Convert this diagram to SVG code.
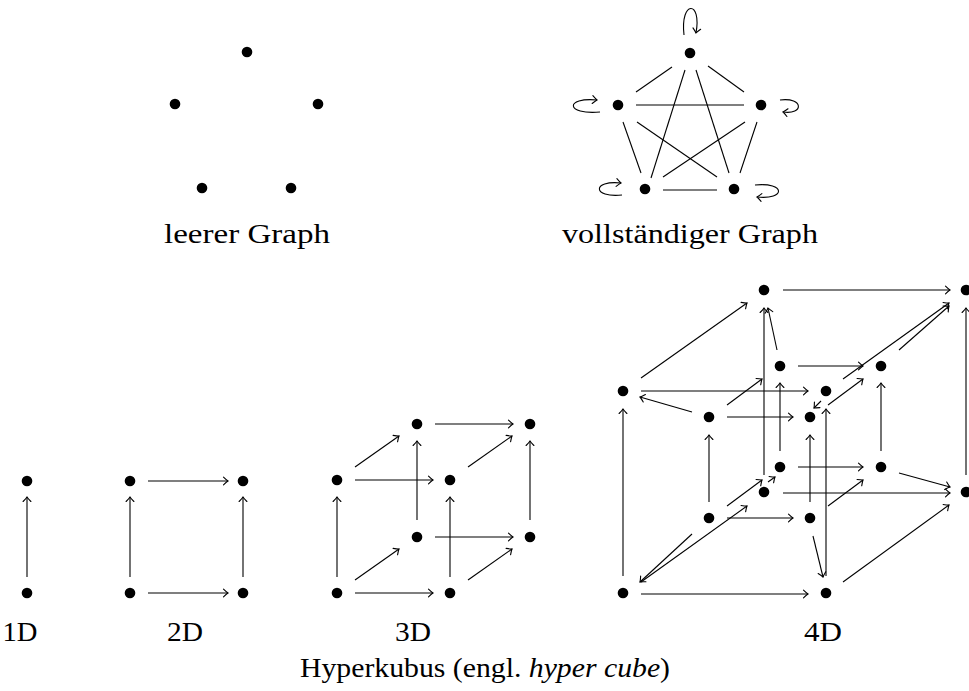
<svg xmlns="http://www.w3.org/2000/svg" width="969" height="691" viewBox="0 0 969 691">
<style>
.n{fill:#000}
.e{stroke:#000;stroke-width:1.1;fill:none}
.a{stroke:#000;stroke-width:1.1;fill:none;marker-end:url(#to)}
.t{font-family:"Liberation Serif","DejaVu Serif",serif;font-size:28px;fill:#000}
</style>
<defs>
<marker id="to" viewBox="-6 -5 8 10" refX="0" refY="0" markerWidth="8" markerHeight="10" markerUnits="userSpaceOnUse" orient="auto">
<path d="M-4.5,-3.9 Q-1.2,-0.7 0,0 Q-1.2,0.7 -4.5,3.9" fill="none" stroke="#000" stroke-width="1.1" stroke-linecap="round"/>
</marker>
</defs>
<rect width="969" height="691" fill="#fff"/>

<!-- empty graph -->
<g id="empty-graph">
<g id="eg1"><circle class="n" cx="247" cy="52" r="5.3"/></g>
<g id="eg2"><circle class="n" cx="175" cy="104" r="5.3"/></g>
<g id="eg3"><circle class="n" cx="318" cy="104" r="5.3"/></g>
<g id="eg4"><circle class="n" cx="202" cy="188" r="5.3"/></g>
<g id="eg5"><circle class="n" cx="291" cy="188" r="5.3"/></g>
</g>
<text class="t" x="247" y="243" text-anchor="middle" textLength="166" lengthAdjust="spacingAndGlyphs">leerer Graph</text>

<!-- complete graph -->
<g id="complete-graph">
<g id="kg1"><circle class="n" cx="690" cy="53" r="5.3"/></g>
<g id="kg2"><circle class="n" cx="618" cy="105" r="5.3"/></g>
<g id="kg3"><circle class="n" cx="761" cy="105" r="5.3"/></g>
<g id="kg4"><circle class="n" cx="645" cy="189" r="5.3"/></g>
<g id="kg5"><circle class="n" cx="734" cy="189" r="5.3"/></g>
</g>
<g id="complete-edges">
<line class="e" x1="672" y1="67" x2="636" y2="92"/>
<line class="e" x1="708" y1="66" x2="744" y2="92"/>
<line class="e" x1="685" y1="70" x2="651" y2="178"/>
<line class="e" x1="696" y1="70" x2="729" y2="173"/>
<line class="e" x1="636" y1="105" x2="744" y2="105"/>
<line class="e" x1="623" y1="122" x2="641" y2="173"/>
<line class="e" x1="637" y1="122" x2="717" y2="177"/>
<line class="e" x1="745" y1="122" x2="663" y2="177"/>
<line class="e" x1="757" y1="122" x2="740" y2="173"/>
<line class="e" x1="663" y1="190" x2="717" y2="190"/>
<path class="a" d="M684,35 C680,0 702,0 696,33"/>
<path class="a" d="M600,112 C565,115 565,97 597,100"/>
<path class="a" d="M622,195 C592,198 592,180 621,183"/>
<path class="a" d="M780,100 C804,97 804,115 783,112"/>
<path class="a" d="M755,185 C786,182 786,200 757,197"/>
</g>
<text class="t" x="690" y="243" text-anchor="middle" textLength="256" lengthAdjust="spacingAndGlyphs">vollständiger Graph</text>

<!-- 1D -->
<g id="h1-0"><circle class="n" cx="27" cy="593" r="5.3"/></g>
<g id="h1-1"><circle class="n" cx="27" cy="481" r="5.3"/></g>
<g id="h1-edges"><line class="a" x1="27" y1="577" x2="27" y2="497"/></g>
<text class="t" x="20" y="641" text-anchor="middle" textLength="35" lengthAdjust="spacingAndGlyphs">1D</text>

<!-- 2D -->
<g id="h2-00"><circle class="n" cx="130" cy="593" r="5.3"/></g>
<g id="h2-10"><circle class="n" cx="243" cy="593" r="5.3"/></g>
<g id="h2-01"><circle class="n" cx="130" cy="481" r="5.3"/></g>
<g id="h2-11"><circle class="n" cx="243" cy="481" r="5.3"/></g>
<g id="h2-edges">
<line class="a" x1="148" y1="593" x2="228" y2="593"/>
<line class="a" x1="148" y1="481" x2="228" y2="481"/>
<line class="a" x1="130" y1="577" x2="130" y2="497"/>
<line class="a" x1="243" y1="577" x2="243" y2="497"/>
</g>
<text class="t" x="185" y="641" text-anchor="middle" textLength="36" lengthAdjust="spacingAndGlyphs">2D</text>

<!-- 3D -->
<g id="h3-000"><circle class="n" cx="337" cy="593" r="5.3"/></g>
<g id="h3-100"><circle class="n" cx="450" cy="593" r="5.3"/></g>
<g id="h3-010"><circle class="n" cx="337" cy="480" r="5.3"/></g>
<g id="h3-110"><circle class="n" cx="450" cy="480" r="5.3"/></g>
<g id="h3-001"><circle class="n" cx="417" cy="537" r="5.3"/></g>
<g id="h3-101"><circle class="n" cx="530" cy="537" r="5.3"/></g>
<g id="h3-011"><circle class="n" cx="417" cy="424" r="5.3"/></g>
<g id="h3-111"><circle class="n" cx="530" cy="424" r="5.3"/></g>
<g id="h3-edges">
<line class="a" x1="355" y1="593" x2="433" y2="593"/>
<line class="a" x1="355" y1="480" x2="433" y2="480"/>
<line class="a" x1="435" y1="537" x2="513" y2="537"/>
<line class="a" x1="435" y1="424" x2="513" y2="424"/>
<line class="a" x1="337" y1="577" x2="337" y2="497"/>
<line class="a" x1="450" y1="577" x2="450" y2="497"/>
<line class="a" x1="417" y1="520" x2="417" y2="441"/>
<line class="a" x1="530" y1="520" x2="530" y2="441"/>
<line class="a" x1="355" y1="580" x2="399" y2="549"/>
<line class="a" x1="468" y1="580" x2="512" y2="549"/>
<line class="a" x1="355" y1="467" x2="399" y2="436"/>
<line class="a" x1="468" y1="467" x2="512" y2="436"/>
</g>
<text class="t" x="413" y="641" text-anchor="middle" textLength="36" lengthAdjust="spacingAndGlyphs">3D</text>

<!-- 4D -->
<g id="h4-A"><circle class="n" cx="764" cy="290" r="5.3"/></g>
<g id="h4-B"><circle class="n" cx="966" cy="290" r="5.3"/></g>
<g id="h4-C"><circle class="n" cx="780" cy="366" r="5.3"/></g>
<g id="h4-D"><circle class="n" cx="881" cy="366" r="5.3"/></g>
<g id="h4-E"><circle class="n" cx="623" cy="391" r="5.3"/></g>
<g id="h4-F"><circle class="n" cx="826" cy="391" r="5.3"/></g>
<g id="h4-G"><circle class="n" cx="709" cy="417" r="5.3"/></g>
<g id="h4-H"><circle class="n" cx="810" cy="417" r="5.3"/></g>
<g id="h4-I"><circle class="n" cx="780" cy="467" r="5.3"/></g>
<g id="h4-J"><circle class="n" cx="881" cy="467" r="5.3"/></g>
<g id="h4-K"><circle class="n" cx="764" cy="492" r="5.3"/></g>
<g id="h4-L"><circle class="n" cx="966" cy="492" r="5.3"/></g>
<g id="h4-M"><circle class="n" cx="709" cy="518" r="5.3"/></g>
<g id="h4-N"><circle class="n" cx="810" cy="518" r="5.3"/></g>
<g id="h4-O"><circle class="n" cx="623" cy="593" r="5.3"/></g>
<g id="h4-P"><circle class="n" cx="826" cy="593" r="5.3"/></g>
<g id="h4-edges">
<!-- outer cube -->
<line class="a" x1="641" y1="391" x2="808" y2="391"/>
<line class="a" x1="783" y1="290" x2="950" y2="290"/>
<line class="a" x1="641" y1="594" x2="808" y2="594"/>
<line class="a" x1="783" y1="493" x2="950" y2="493"/>
<line class="a" x1="623" y1="576" x2="623" y2="409"/>
<line class="a" x1="826" y1="576" x2="826" y2="409"/>
<line class="a" x1="764" y1="475" x2="764" y2="308"/>
<line class="a" x1="966" y1="475" x2="966" y2="308"/>
<line class="a" x1="641" y1="378" x2="747" y2="303"/>
<line class="a" x1="843" y1="379" x2="949" y2="303"/>
<line class="a" x1="641" y1="582" x2="747" y2="506"/>
<line class="a" x1="843" y1="582" x2="949" y2="505"/>
<!-- inner cube -->
<line class="a" x1="727" y1="417" x2="793" y2="417"/>
<line class="a" x1="798" y1="366" x2="863" y2="366"/>
<line class="a" x1="727" y1="518" x2="793" y2="518"/>
<line class="a" x1="798" y1="467" x2="863" y2="467"/>
<line class="a" x1="709" y1="502" x2="709" y2="435"/>
<line class="a" x1="810" y1="502" x2="810" y2="435"/>
<line class="a" x1="780" y1="451" x2="780" y2="383"/>
<line class="a" x1="881" y1="451" x2="881" y2="383"/>
<line class="a" x1="727" y1="405" x2="762" y2="379"/>
<line class="a" x1="828" y1="405" x2="863" y2="379"/>
<line class="a" x1="727" y1="506" x2="762" y2="480"/>
<line class="a" x1="828" y1="506" x2="863" y2="480"/>
<!-- connections -->
<line class="a" x1="692" y1="412" x2="640" y2="397"/>
<line class="a" x1="777" y1="350" x2="768" y2="308"/>
<line class="a" x1="821" y1="401" x2="814" y2="408"/>
<line class="a" x1="899" y1="350" x2="949" y2="306"/>
<line class="a" x1="768" y1="482" x2="775" y2="477"/>
<line class="a" x1="899" y1="473" x2="950" y2="487"/>
<line class="a" x1="692" y1="534" x2="640" y2="582"/>
<line class="a" x1="813" y1="536" x2="823" y2="577"/>
</g>
<text class="t" x="823" y="641" text-anchor="middle" textLength="38" lengthAdjust="spacingAndGlyphs">4D</text>

<text class="t" x="485" y="677" text-anchor="middle" textLength="370" lengthAdjust="spacingAndGlyphs">Hyperkubus (engl. <tspan font-style="italic">hyper cube</tspan>)</text>
</svg>
